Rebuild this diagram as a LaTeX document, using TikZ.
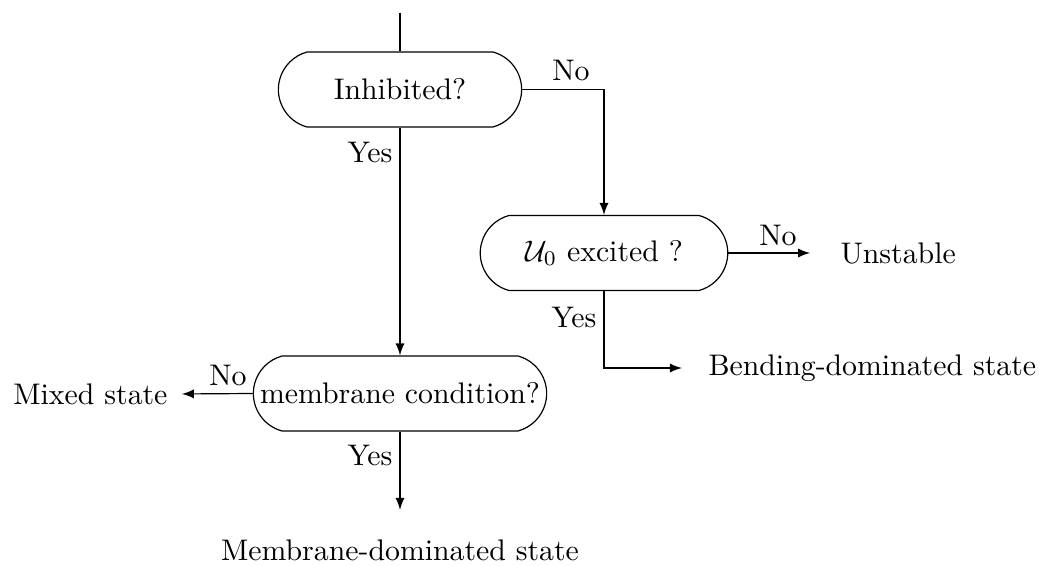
\documentclass[tikz,border=0pt]{standalone}
\usepackage{amsfonts, amssymb}
\usepackage{mathtools}
\usetikzlibrary{shapes.misc}

\tikzset{
  query/.style={draw, rounded rectangle, rounded rectangle arc length=150,
    minimum height=0.885cm, inner sep=2pt},
  lbl/.style={inner sep=1pt},
  flow/.style={-latex}
}

\begin{document}
\begin{tikzpicture}[x=0.0118cm, y=-0.0118cm]
        \useasboundingbox (0,0) rectangle (1050,566);

        \node[query, minimum width=3.01cm] (inh) at (400,89.5) {Inhibited?};
        \node[query, minimum width=3.06cm] (uzero) at (604,253) {$\mathcal{U}_0$ excited ?};
        \node[query, minimum width=3.6cm] (memb) at (400,393.5) {membrane condition?};

        \node[anchor=west] (unst) at (830,253) {Unstable};
        \node[anchor=west] (bend) at (698,368) {Bending-dominated state};
        \node[anchor=east] (mixed) at (178,394) {Mixed state};
        \node (membst) at (400,550) {Membrane-dominated state};

        \node[lbl] (noA) at (571,70) {No};
        \node[lbl, anchor=east] (yesA) at (396,152) {Yes};
        \node[lbl] (noB) at (778,235) {No};
        \node[lbl, anchor=east] (yesB) at (600,317) {Yes};
        \node[lbl] (noC) at (228,375) {No};
        \node[lbl, anchor=east] (yesC) at (396,455) {Yes};

        % Entree
        \coordinate (entry) at (400,13);
        \draw (entry) -- (inh.north);

        % Branches
        \draw[flow] (inh.east) -| (uzero.north);
        \draw[flow] (inh.south) -- (memb.north);
        \draw[flow, shorten >=6.7pt] (uzero.east) -- (unst.west);
        \draw[flow, shorten >=5.4pt] (uzero.south) |- (bend.west);
        \draw[flow, shorten >=1.3pt] (memb.west) -- (mixed.east);
        \draw[flow, shorten >=6.4pt] (memb.south) -- (membst.north);
\end{tikzpicture}
\end{document}
